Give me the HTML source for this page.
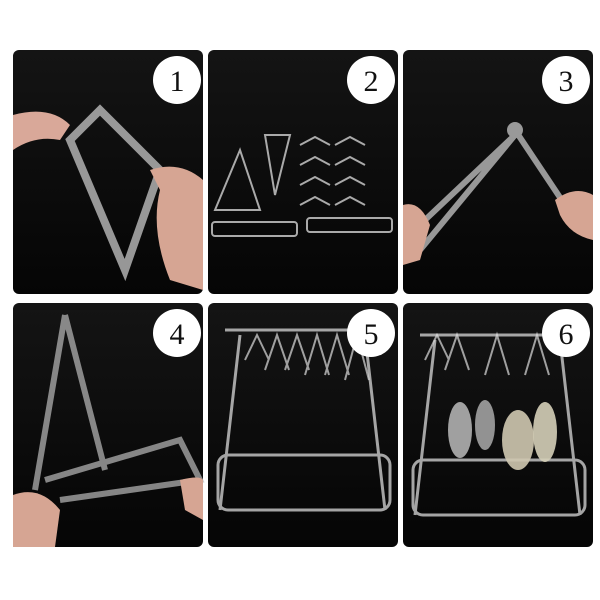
<!DOCTYPE html>
<html><head><style>
body{margin:0;background:#fff;width:600px;height:600px;overflow:hidden}
</style></head><body>
<svg width="600" height="600" xmlns="http://www.w3.org/2000/svg" style="position:absolute;left:0;top:0">
<defs>
<linearGradient id="g" x1="0" y1="0" x2="0" y2="1"><stop offset="0" stop-color="#141414"/><stop offset="1" stop-color="#050505"/></linearGradient>
</defs>
<rect x="0" y="0" width="600" height="600" fill="#fff"/>
<!-- panels -->
<rect x="13" y="50" width="190" height="244" rx="6" fill="url(#g)"/>
<rect x="208" y="50" width="190" height="244" rx="6" fill="url(#g)"/>
<rect x="403" y="50" width="190" height="244" rx="6" fill="url(#g)"/>
<rect x="13" y="303" width="190" height="244" rx="6" fill="url(#g)"/>
<rect x="208" y="303" width="190" height="244" rx="6" fill="url(#g)"/>
<rect x="403" y="303" width="190" height="244" rx="6" fill="url(#g)"/>

<!-- panel 1 content -->
<g fill="none" stroke="#bbb" stroke-width="8" opacity="0.8">
<path d="M70 140 L125 270 L160 170 L100 110 Z"/>
</g>
<path d="M13 115 Q50 105 70 125 L60 140 Q35 135 13 150Z" fill="#d9a899"/>
<path d="M150 170 Q180 160 203 180 L203 290 L170 280 Q150 230 160 190Z" fill="#d6a593"/>
<!-- panel 2 content -->
<g fill="none" stroke="#aaa" stroke-width="2">
<path d="M240 150 L215 210 L260 210 Z"/>
<path d="M265 135 L290 135 L275 195 Z"/>
<rect x="212" y="222" width="85" height="14" rx="3"/>
<rect x="307" y="218" width="85" height="14" rx="3"/>
<path d="M300 145 l15 -8 l15 8 M335 145 l15 -8 l15 8 M300 165 l15 -8 l15 8 M335 165 l15 -8 l15 8 M300 185 l15 -8 l15 8 M335 185 l15 -8 l15 8 M300 205 l15 -8 l15 8 M335 205 l15 -8 l15 8"/>
</g>
<!-- panel 3 content -->
<g fill="none" stroke="#bbb" stroke-width="6" opacity="0.8">
<path d="M420 250 L515 135 L425 220"/>
<path d="M515 130 L565 205"/>
</g>
<circle cx="515" cy="130" r="8" fill="#999"/>
<path d="M403 205 Q420 200 430 225 L420 260 L403 265Z" fill="#d6a593"/>
<path d="M555 200 Q575 185 593 195 L593 240 Q570 235 560 215Z" fill="#d6a593"/>
<!-- panel 4 content -->
<g fill="none" stroke="#bbb" stroke-width="6" opacity="0.7">
<path d="M65 315 L35 490 M65 315 L105 470"/>
<path d="M45 480 L180 440 L200 480 L60 500"/>
</g>
<path d="M13 495 Q40 485 60 510 L55 547 L13 547Z" fill="#d6a593"/>
<path d="M180 480 Q200 475 203 480 L203 520 L185 510Z" fill="#d6a593"/>
<!-- panel 5 & 6 content -->
<g fill="none" stroke="#ccc" stroke-width="3" opacity="0.8">
<path d="M225 330 L380 330 M240 335 L220 510 M365 335 L385 510"/>
<rect x="218" y="455" width="172" height="55" rx="10"/>
<path d="M420 335 L580 335 M435 340 L415 515 M560 340 L580 515"/>
<rect x="413" y="460" width="172" height="55" rx="10"/>
</g>
<g fill="none" stroke="#ddd" stroke-width="2" opacity="0.7">
<path d="M245 360 l12 -25 l12 25 M265 370 l12 -35 l12 35 M285 370 l12 -35 l12 35 M305 375 l12 -40 l12 40 M325 375 l12 -40 l12 40 M345 380 l12 -45 l12 45"/>
<path d="M425 360 l12 -25 l12 25 M445 370 l12 -35 l12 35 M485 375 l12 -40 l12 40 M525 375 l12 -40 l12 40"/>
</g>
<ellipse cx="460" cy="430" rx="12" ry="28" fill="#bbb" opacity="0.85"/>
<ellipse cx="485" cy="425" rx="10" ry="25" fill="#aaa" opacity="0.85"/>
<ellipse cx="518" cy="440" rx="16" ry="30" fill="#cfc8b0" opacity="0.9"/>
<ellipse cx="545" cy="432" rx="12" ry="30" fill="#d5cfb8" opacity="0.9"/>

<!-- number circles -->
<g font-family="Liberation Serif, serif" font-size="30" text-anchor="middle" fill="#111">
<circle cx="177" cy="80" r="24" fill="#fff"/><text x="177" y="91">1</text>
<circle cx="371" cy="80" r="24" fill="#fff"/><text x="371" y="91">2</text>
<circle cx="566" cy="80" r="24" fill="#fff"/><text x="566" y="91">3</text>
<circle cx="177" cy="333" r="24" fill="#fff"/><text x="177" y="344">4</text>
<circle cx="371" cy="333" r="24" fill="#fff"/><text x="371" y="344">5</text>
<circle cx="566" cy="333" r="24" fill="#fff"/><text x="566" y="344">6</text>
</g>
</svg>
</body></html>
